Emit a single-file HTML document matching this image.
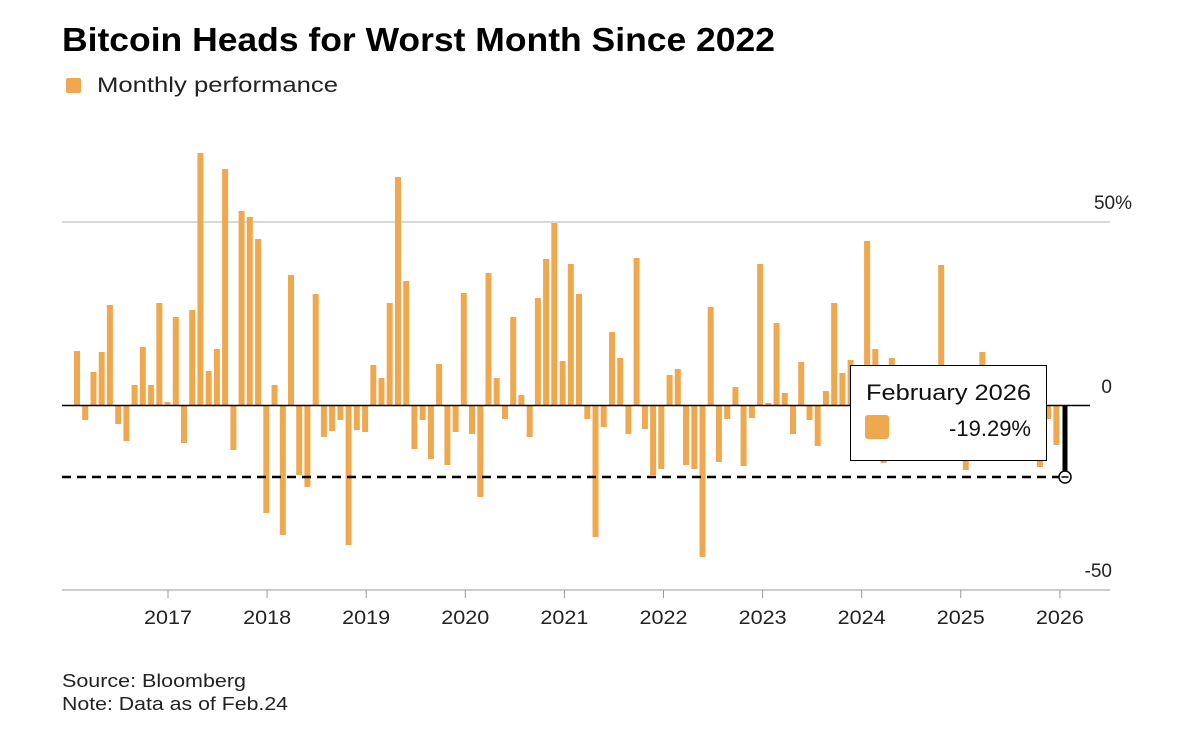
<!DOCTYPE html>
<html><head><meta charset="utf-8"><style>
body{margin:0;background:#fff;width:1200px;height:735px;overflow:hidden;font-family:"Liberation Sans",sans-serif;}
</style></head><body>
<svg id="s" width="1200" height="735" xmlns="http://www.w3.org/2000/svg" font-family="Liberation Sans, sans-serif">
<text x="62" y="51" font-size="33" font-weight="bold" fill="#000" textLength="713" lengthAdjust="spacingAndGlyphs">Bitcoin Heads for Worst Month Since 2022</text>
<rect x="66" y="78" width="15" height="15" rx="2" fill="#F0A84E"/>
<text x="97" y="92" font-size="21" fill="#222" textLength="241" lengthAdjust="spacingAndGlyphs">Monthly performance</text>
<line x1="62" y1="222" x2="1110" y2="222" stroke="#ccc" stroke-width="1.5"/>
<line x1="62" y1="590" x2="1110" y2="590" stroke="#bbb" stroke-width="1.5"/>
<g id="bars"></g>
<line x1="62" y1="405.5" x2="1090" y2="405.5" stroke="#000" stroke-width="1.5"/>
<line x1="62" y1="477" x2="1060" y2="477" stroke="#000" stroke-width="2.5" stroke-dasharray="9,6"/>
<rect x="1062.5" y="405" width="5" height="66" fill="#000"/>
<circle cx="1065" cy="477" r="6" fill="#fff" stroke="#000" stroke-width="1.5"/>
<line x1="1061.5" y1="477" x2="1068.5" y2="477" stroke="#000" stroke-width="1.5"/>
<g font-size="19" fill="#222">
<text x="1132" y="209" text-anchor="end">50%</text>
<text x="1112" y="393" text-anchor="end">0</text>
<text x="1112" y="577" text-anchor="end">-50</text>
</g>
<g id="ticks" font-size="19" fill="#222" text-anchor="middle"></g>
<rect x="850.5" y="365.5" width="196" height="95" fill="#fff" stroke="#000" stroke-width="1"/>
<text x="866" y="400" font-size="22" fill="#111" textLength="165" lengthAdjust="spacingAndGlyphs">February 2026</text>
<rect x="865" y="415" width="24" height="24" rx="3" fill="#F0A84E"/>
<text x="1031" y="436" font-size="22" fill="#111" text-anchor="end">-19.29%</text>
<text x="62" y="687" font-size="18" fill="#222" textLength="184" lengthAdjust="spacingAndGlyphs">Source: Bloomberg</text>
<text x="62" y="710" font-size="18" fill="#222" textLength="226" lengthAdjust="spacingAndGlyphs">Note: Data as of Feb.24</text>
</svg>
<script>
var ys=[351,420,372,352,305,424,441,385,347,385,303,402,317,443,310,153,371,349,169,450,211,217,239,513,385,535,275,475,487,294,437,431,420,545,430,432,365,378,303,177,281,449,420,459,364,465,432,293,434,497,273,378,419,317,395,437,298,259,223,361,264,294,419,537,427,332,358,434,258,429,475,469,375,369,465,469,557,307,462,419,387,466,418,264,403,323,393,434,362,420,446,391,303,373,360,402,241,349,463,358,431,395,437,378,365,265,416,370,470,412,352,365,396,376,430,387,420,467,419,445];
var ns="http://www.w3.org/2000/svg",g=document.getElementById("bars");
ys.forEach(function(y,i){var x=77+i*8.23;var r=document.createElementNS(ns,"rect");
r.setAttribute("x",(x-3).toFixed(1));r.setAttribute("width","6");
r.setAttribute("y",Math.min(y,405));r.setAttribute("height",Math.abs(y-405));
r.setAttribute("fill","#F0A84E");g.appendChild(r);});
var t=document.getElementById("ticks");
for(var k=0;k<10;k++){var x=168+k*99.1;
var l=document.createElementNS(ns,"line");l.setAttribute("x1",x);l.setAttribute("x2",x);l.setAttribute("y1",590);l.setAttribute("y2",598);l.setAttribute("stroke","#999");t.appendChild(l);
var tx=document.createElementNS(ns,"text");tx.setAttribute("x",x);tx.setAttribute("y",624);tx.setAttribute("textLength","48");tx.setAttribute("lengthAdjust","spacingAndGlyphs");tx.textContent=2017+k;t.appendChild(tx);}
</script>
</body></html>
